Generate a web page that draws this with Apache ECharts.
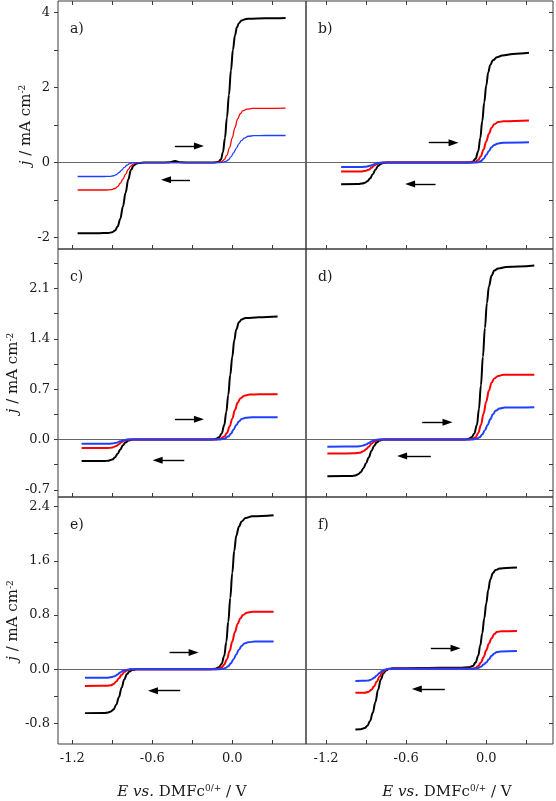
<!DOCTYPE html>
<html><head><meta charset="utf-8">
<script src="https://cdn.jsdelivr.net/npm/echarts@6/dist/echarts.min.js"></script>
<style>html,body{margin:0;padding:0;background:#fff}#c{width:556px;height:801px}</style>
</head><body><div id="c"></div>
<script>
// ---- tick values ----
const xTicks = [-1.2, -0.9, -0.6, -0.3, 0, 0.3];
const xLabels = [-1.2, -0.6, 0];
const yTicks1 = [-2, -1, 0, 1, 2, 3, 4];
const yLabels1 = [-2, 0, 2, 4];
const yTicks2 = [-0.7, -0.35, 0, 0.35, 0.7, 1.05, 1.4, 1.75, 2.1, 2.45];
const yLabels2 = [-0.7, 0, 0.7, 1.4, 2.1];
const yTicks3 = [-0.8, -0.4, 0, 0.4, 0.8, 1.2, 1.6, 2.0, 2.4];
const yLabels3 = [-0.8, 0, 0.8, 1.6, 2.4];
const panelNames = ['a)', 'b)', 'c)', 'd)', 'e)', 'f)'];

// ---- series data [E (V), j (mA cm-2)] ----
const aBlack = [[-1.16,-1.88],[-1.0,-1.88],[-0.93,-1.875],[-0.9,-1.855],[-0.88,-1.81],[-0.86,-1.7],[-0.84,-1.5],[-0.82,-1.17],[-0.80,-0.8],[-0.78,-0.45],[-0.76,-0.2],[-0.74,-0.08],[-0.72,-0.03],[-0.70,-0.01],[-0.66,0],[-0.55,0],[-0.47,0.01],[-0.43,0.04],[-0.39,0.01],[-0.3,0],[-0.16,0],[-0.12,0.01],[-0.10,0.03],[-0.085,0.09],[-0.07,0.27],[-0.055,0.65],[-0.04,1.2],[-0.025,1.8],[-0.01,2.45],[0.005,3.0],[0.02,3.38],[0.035,3.6],[0.05,3.71],[0.07,3.78],[0.09,3.81],[0.12,3.83],[0.25,3.84],[0.40,3.85]];
const aRed = [[-1.16,-0.73],[-0.95,-0.73],[-0.91,-0.72],[-0.88,-0.69],[-0.86,-0.64],[-0.84,-0.55],[-0.82,-0.44],[-0.80,-0.31],[-0.78,-0.18],[-0.76,-0.09],[-0.74,-0.04],[-0.72,-0.01],[-0.69,0],[-0.4,0],[-0.13,0],[-0.1,0.01],[-0.08,0.03],[-0.06,0.08],[-0.04,0.2],[-0.02,0.4],[0.0,0.66],[0.02,0.93],[0.04,1.16],[0.06,1.3],[0.08,1.38],[0.11,1.42],[0.15,1.44],[0.25,1.445],[0.40,1.45]];
const aBlue = [[-1.16,-0.37],[-0.96,-0.37],[-0.92,-0.365],[-0.89,-0.35],[-0.87,-0.32],[-0.85,-0.27],[-0.83,-0.2],[-0.81,-0.13],[-0.79,-0.07],[-0.77,-0.03],[-0.75,-0.01],[-0.72,0],[-0.4,0],[-0.1,0],[-0.07,0.01],[-0.05,0.03],[-0.03,0.07],[-0.01,0.15],[0.01,0.26],[0.03,0.38],[0.05,0.5],[0.07,0.59],[0.09,0.65],[0.12,0.7],[0.16,0.715],[0.25,0.72],[0.40,0.72]];

const bBlack = [[-1.087,-0.575],[-0.96,-0.57],[-0.93,-0.56],[-0.91,-0.54],[-0.89,-0.5],[-0.87,-0.42],[-0.85,-0.31],[-0.83,-0.19],[-0.81,-0.09],[-0.79,-0.035],[-0.77,-0.01],[-0.74,0],[-0.4,0],[-0.15,0],[-0.12,0.01],[-0.10,0.03],[-0.08,0.1],[-0.06,0.3],[-0.045,0.65],[-0.03,1.1],[-0.015,1.6],[0.0,2.05],[0.015,2.4],[0.03,2.6],[0.05,2.72],[0.08,2.8],[0.12,2.85],[0.2,2.89],[0.32,2.92]];
const bRed = [[-1.087,-0.24],[-0.94,-0.235],[-0.91,-0.225],[-0.88,-0.19],[-0.86,-0.14],[-0.84,-0.08],[-0.82,-0.04],[-0.80,-0.015],[-0.77,0],[-0.4,0],[-0.11,0],[-0.08,0.02],[-0.06,0.07],[-0.04,0.17],[-0.02,0.35],[0.0,0.56],[0.02,0.77],[0.04,0.93],[0.06,1.02],[0.09,1.08],[0.13,1.1],[0.32,1.12]];
const bBlue = [[-1.087,-0.12],[-0.93,-0.117],[-0.90,-0.108],[-0.87,-0.085],[-0.85,-0.06],[-0.83,-0.03],[-0.81,-0.01],[-0.78,0],[-0.4,0],[-0.09,0],[-0.06,0.01],[-0.04,0.04],[-0.02,0.1],[0.0,0.2],[0.02,0.31],[0.04,0.41],[0.06,0.47],[0.09,0.51],[0.13,0.53],[0.32,0.54]];

const cBlack = [[-1.13,-0.30],[-0.96,-0.30],[-0.93,-0.295],[-0.90,-0.28],[-0.88,-0.25],[-0.86,-0.2],[-0.84,-0.14],[-0.82,-0.08],[-0.80,-0.04],[-0.78,-0.015],[-0.75,0],[-0.4,0],[-0.15,0],[-0.12,0.01],[-0.10,0.03],[-0.08,0.08],[-0.06,0.2],[-0.045,0.38],[-0.03,0.62],[-0.015,0.9],[0.0,1.15],[0.015,1.38],[0.03,1.53],[0.05,1.63],[0.07,1.67],[0.1,1.69],[0.2,1.7],[0.34,1.71]];
const cRed = [[-1.13,-0.12],[-0.94,-0.12],[-0.90,-0.113],[-0.87,-0.09],[-0.85,-0.065],[-0.83,-0.035],[-0.81,-0.015],[-0.78,0],[-0.4,0],[-0.12,0],[-0.09,0.01],[-0.06,0.04],[-0.04,0.09],[-0.02,0.18],[0.0,0.29],[0.02,0.41],[0.04,0.51],[0.06,0.57],[0.09,0.61],[0.13,0.625],[0.2,0.63],[0.34,0.63]];
const cBlue = [[-1.13,-0.06],[-0.94,-0.06],[-0.90,-0.057],[-0.87,-0.045],[-0.84,-0.025],[-0.81,-0.008],[-0.78,0],[-0.4,0],[-0.09,0],[-0.06,0.01],[-0.03,0.04],[-0.01,0.08],[0.01,0.14],[0.03,0.2],[0.05,0.25],[0.07,0.285],[0.1,0.303],[0.15,0.31],[0.34,0.31]];

const dBlack = [[-1.19,-0.51],[-1.01,-0.508],[-0.98,-0.5],[-0.96,-0.485],[-0.94,-0.455],[-0.92,-0.4],[-0.90,-0.33],[-0.88,-0.25],[-0.86,-0.16],[-0.84,-0.09],[-0.82,-0.04],[-0.80,-0.015],[-0.77,0],[-0.4,0],[-0.16,0],[-0.13,0.01],[-0.11,0.03],[-0.09,0.08],[-0.07,0.2],[-0.055,0.42],[-0.04,0.75],[-0.025,1.15],[-0.01,1.55],[0.005,1.9],[0.02,2.13],[0.04,2.28],[0.06,2.35],[0.09,2.38],[0.15,2.4],[0.36,2.42]];
const dRed = [[-1.19,-0.195],[-0.99,-0.193],[-0.95,-0.185],[-0.92,-0.165],[-0.90,-0.135],[-0.88,-0.1],[-0.86,-0.06],[-0.84,-0.03],[-0.82,-0.01],[-0.79,0],[-0.4,0],[-0.13,0],[-0.10,0.01],[-0.08,0.03],[-0.06,0.09],[-0.04,0.2],[-0.02,0.36],[0.0,0.53],[0.02,0.68],[0.04,0.79],[0.06,0.85],[0.09,0.885],[0.13,0.9],[0.36,0.9]];
const dBlue = [[-1.19,-0.1],[-0.99,-0.099],[-0.95,-0.094],[-0.92,-0.082],[-0.90,-0.068],[-0.88,-0.048],[-0.86,-0.028],[-0.84,-0.012],[-0.81,0],[-0.4,0],[-0.1,0],[-0.07,0.01],[-0.05,0.03],[-0.03,0.07],[-0.01,0.13],[0.01,0.2],[0.03,0.28],[0.05,0.35],[0.07,0.4],[0.1,0.43],[0.14,0.445],[0.36,0.45]];

const eBlack = [[-1.105,-0.645],[-0.96,-0.642],[-0.93,-0.635],[-0.91,-0.62],[-0.89,-0.59],[-0.87,-0.52],[-0.85,-0.41],[-0.83,-0.27],[-0.81,-0.15],[-0.79,-0.07],[-0.77,-0.03],[-0.75,-0.01],[-0.72,0],[-0.4,0],[-0.17,0],[-0.13,0.01],[-0.10,0.03],[-0.08,0.08],[-0.06,0.2],[-0.045,0.4],[-0.03,0.7],[-0.015,1.05],[0.0,1.42],[0.015,1.75],[0.03,1.97],[0.05,2.1],[0.07,2.18],[0.1,2.23],[0.15,2.255],[0.31,2.27]];
const eRed = [[-1.105,-0.245],[-0.94,-0.243],[-0.91,-0.235],[-0.89,-0.215],[-0.87,-0.18],[-0.85,-0.13],[-0.83,-0.08],[-0.81,-0.04],[-0.79,-0.015],[-0.76,0],[-0.4,0],[-0.13,0],[-0.10,0.01],[-0.08,0.03],[-0.06,0.07],[-0.04,0.15],[-0.02,0.27],[0.0,0.41],[0.02,0.55],[0.04,0.67],[0.06,0.75],[0.08,0.8],[0.11,0.835],[0.15,0.848],[0.31,0.85]];
const eBlue = [[-1.105,-0.125],[-0.94,-0.123],[-0.91,-0.117],[-0.88,-0.1],[-0.86,-0.075],[-0.84,-0.045],[-0.82,-0.022],[-0.80,-0.008],[-0.77,0],[-0.4,0],[-0.1,0],[-0.07,0.01],[-0.05,0.02],[-0.03,0.045],[-0.01,0.09],[0.01,0.15],[0.03,0.22],[0.05,0.29],[0.07,0.345],[0.09,0.38],[0.12,0.4],[0.17,0.41],[0.31,0.41]];

const fBlack = [[-0.98,-0.885],[-0.94,-0.882],[-0.91,-0.865],[-0.89,-0.83],[-0.87,-0.76],[-0.85,-0.64],[-0.83,-0.48],[-0.81,-0.3],[-0.79,-0.15],[-0.77,-0.06],[-0.75,-0.015],[-0.73,0.005],[-0.70,0.015],[-0.5,0.02],[-0.2,0.025],[-0.13,0.03],[-0.10,0.05],[-0.08,0.1],[-0.06,0.2],[-0.045,0.35],[-0.03,0.53],[-0.015,0.75],[0.0,0.97],[0.015,1.17],[0.03,1.32],[0.05,1.42],[0.07,1.465],[0.1,1.485],[0.15,1.495],[0.23,1.5]];
const fRed = [[-0.98,-0.345],[-0.91,-0.343],[-0.88,-0.33],[-0.86,-0.3],[-0.84,-0.25],[-0.82,-0.18],[-0.80,-0.11],[-0.78,-0.05],[-0.76,-0.015],[-0.74,0.005],[-0.7,0.01],[-0.4,0.01],[-0.11,0.01],[-0.08,0.02],[-0.06,0.05],[-0.04,0.1],[-0.02,0.18],[0.0,0.28],[0.02,0.38],[0.04,0.46],[0.06,0.52],[0.08,0.55],[0.11,0.562],[0.23,0.565]];
const fBlue = [[-0.98,-0.17],[-0.91,-0.169],[-0.88,-0.163],[-0.86,-0.15],[-0.84,-0.125],[-0.82,-0.09],[-0.80,-0.055],[-0.78,-0.025],[-0.76,-0.005],[-0.74,0.005],[-0.7,0.01],[-0.4,0.01],[-0.09,0.01],[-0.06,0.02],[-0.04,0.04],[-0.02,0.07],[0.0,0.1],[0.02,0.15],[0.04,0.2],[0.06,0.235],[0.08,0.255],[0.11,0.265],[0.23,0.27]];

// arrows: [E start, E tip, j]
const arrowsA = [[-0.43,-0.22,0.44],[-0.317,-0.527,-0.46]];
const arrowsB = [[-0.43,-0.215,0.53],[-0.38,-0.60,-0.57]];
const arrowsC = [[-0.43,-0.22,0.28],[-0.36,-0.59,-0.29]];
const arrowsD = [[-0.48,-0.26,0.24],[-0.415,-0.66,-0.23]];
const arrowsE = [[-0.47,-0.26,0.25],[-0.39,-0.625,-0.315]];
const arrowsF = [[-0.415,-0.20,0.31],[-0.31,-0.55,-0.29]];

// ---- layout ----
const FONT = '"DejaVu Serif", "Liberation Serif", serif';
const AX = '#3a3a3a';
const colors = ['#000000', '#ff0000', '#2040ff'];
const colX = [{left:58, w:248, xMin:-1.307, xMax:0.553}, {left:306, w:247, xMin:-1.35, xMax:0.50}];
const rows = [
  {top:1, h:248, yMin:-2.3, yMax:4.3, ticks:yTicks1, labels:yLabels1, fmt:v=>String(v), gap:24},
  {top:249, h:248, yMin:-0.8, yMax:2.65, ticks:yTicks2, labels:yLabels2, fmt:v=>v.toFixed(1), gap:37},
  {top:497, h:247, yMin:-1.1, yMax:2.54, ticks:yTicks3, labels:yLabels3, fmt:v=>v.toFixed(1), gap:36}
];
const curves = [[aBlack,aRed,aBlue],[bBlack,bRed,bBlue],[cBlack,cRed,cBlue],[dBlack,dRed,dBlue],[eBlack,eRed,eBlue],[fBlack,fRed,fBlue]];
const arrows = [arrowsA, arrowsB, arrowsC, arrowsD, arrowsE, arrowsF];

const option = {animation:false, backgroundColor:'#fff', grid:[], xAxis:[], yAxis:[], series:[], graphic:[]};
for (let i = 0; i < 6; i++) {
  const r = rows[Math.floor(i/2)], c = colX[i%2], row = Math.floor(i/2), col = i%2;
  option.grid.push({left:c.left, top:r.top, width:c.w, height:r.h, show:true, borderColor:AX, borderWidth:1, backgroundColor:'transparent'});
  const xi = option.xAxis.length;
  option.xAxis.push({type:'value', gridIndex:i, min:c.xMin, max:c.xMax, position:'bottom',
    axisLine:{show:false, onZero:false}, splitLine:{show:false},
    axisTick:{show:true, inside:true, length:4, customValues:xTicks, lineStyle:{color:AX}},
    axisLabel:{show:row===2, customValues:xLabels, margin:8, formatter:v=>v.toFixed(1), fontFamily:FONT, fontSize:13, color:'#1a1a1a'}});
  if (row === 0) {
    option.xAxis.push({type:'value', gridIndex:i, min:c.xMin, max:c.xMax, position:'top',
      axisLine:{show:false, onZero:false}, splitLine:{show:false}, axisLabel:{show:false},
      axisTick:{show:true, inside:true, length:4, customValues:xTicks, lineStyle:{color:AX}}});
  }
  const yi = option.yAxis.length;
  const yax = {type:'value', gridIndex:i, min:r.yMin, max:r.yMax, position: col===0?'left':'right',
    axisLine:{show:false, onZero:false}, splitLine:{show:false},
    axisTick:{show:true, inside: col===1, length:4, customValues:r.ticks, lineStyle:{color:AX}},
    axisLabel:{show:col===0, customValues:r.labels, margin:8, formatter:r.fmt, fontFamily:FONT, fontSize:13, color:'#1a1a1a'}};
  if (col === 0) {
    yax.name = '{i|j} / mA cm{s|-2}';
    yax.nameLocation = 'middle';
    yax.nameRotate = 90;
    yax.nameGap = r.gap;
    yax.nameTextStyle = {fontFamily:FONT, fontSize:15, color:'#1a1a1a',
      rich:{i:{fontFamily:FONT, fontSize:15, fontStyle:'italic', color:'#1a1a1a'},
            s:{fontFamily:FONT, fontSize:9, verticalAlign:'top', lineHeight:10, color:'#1a1a1a'}}};
  }
  option.yAxis.push(yax);

  const ml = [{yAxis:0, lineStyle:{color:'#666', width:1, type:'solid'}}];
  arrows[i].forEach(a => {
    const dir = a[1] > a[0] ? 1 : -1;
    ml.push([{coord:[a[0], a[2]], symbol:'none', lineStyle:{color:'#000', width:1.4, type:'solid'}},
             {coord:[a[1] - dir*0.03, a[2]], symbol:'triangle', symbolSize:[7,10]}]);
  });
  curves[i].forEach((d, k) => {
    const s = {type:'line', xAxisIndex:xi, yAxisIndex:yi, data:d, showSymbol:false, smooth:0.4, smoothMonotone:'x',
      lineStyle:{color:colors[k], width:(i===0 && k>0)?1.3:2}, itemStyle:{color:colors[k]}, z:3, silent:true};
    if (k === 0) {
      s.markLine = {silent:true, symbol:['none','none'], label:{show:false}, animation:false, data:ml, z:2};
    }
    option.series.push(s);
  });
  option.graphic.push({type:'text', x:c.left+12, y:r.top+28, z:10,
    style:{text:panelNames[i], font:'14px ' + FONT, fill:'#1a1a1a', verticalAlign:'middle', align:'left'}});
}
// x-axis titles
[182, 447].forEach(cx => {
  option.graphic.push({type:'text', x:cx, y:792, z:10,
    style:{text:'{i|E vs.} DMFc{s|0/+} / V', font:'15px ' + FONT, fill:'#1a1a1a', align:'center', verticalAlign:'middle',
      rich:{i:{font:'italic 15px ' + FONT, fill:'#1a1a1a'}, s:{font:'9px ' + FONT, verticalAlign:'top', lineHeight:10, fill:'#1a1a1a'}}}});
});

const chart = echarts.init(document.getElementById('c'), null, {renderer:'canvas'});
chart.setOption(option);
</script>
</body></html>
